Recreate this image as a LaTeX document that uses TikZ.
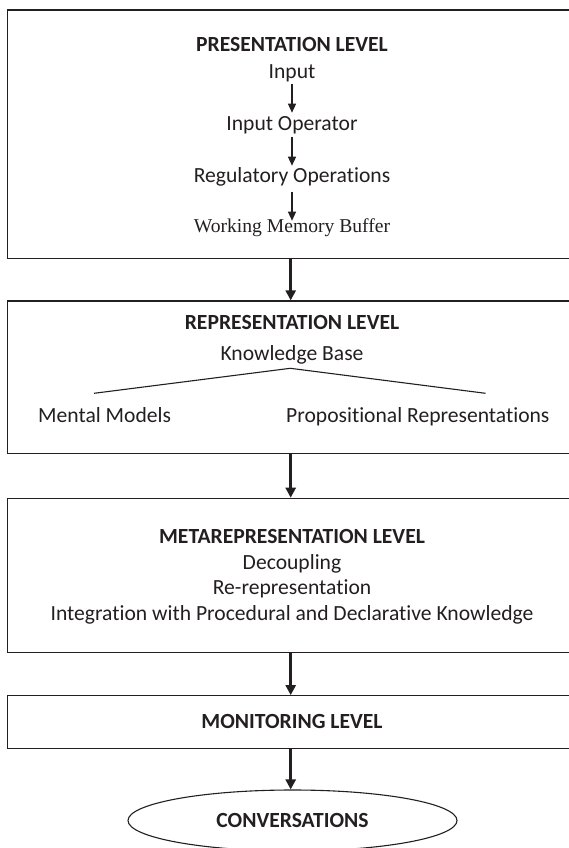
\documentclass[tikz,border=0pt]{standalone}
\usepackage{fontspec}
\setmainfont{Carlito}[RawFeature={-liga}]
\newfontfamily\timesfont{Liberation Serif}
\usetikzlibrary{arrows.meta,shapes.geometric}
\definecolor{ink}{HTML}{231F20}
\begin{document}
\begin{tikzpicture}[x=1pt,y=-1pt,
  levelbox/.style={draw=ink, line width=1.2pt, rectangle, inner sep=0pt, minimum width=568.7pt},
  txt/.style={inner sep=0pt, anchor=base, text=ink, font=\fontsize{21.6}{26}\selectfont},
  head/.style={txt, font=\fontsize{21.6}{26}\selectfont\bfseries},
  smallarrow/.style={draw=ink, line width=1.2pt, -{Triangle[width=8pt,length=9pt]}},
  bigarrow/.style={draw=ink, line width=3pt, -{Triangle[width=10pt,length=10pt]}},
  branch/.style={draw=ink, line width=1.1pt},
  endpoint/.style={draw=ink, line width=1.1pt, ellipse, inner sep=0pt,
    minimum width=329pt, minimum height=61pt, text=ink,
    font=\fontsize{21.6}{26}\selectfont\bfseries}]
\useasboundingbox (0,0) rectangle (569,848);
\clip (0,0) rectangle (569,848);

% level boxes
\node[levelbox, minimum height=248.7pt] (b1) at (291.65,134.35) {};
\node[levelbox, minimum height=152.3pt] (b2) at (291.65,377.15) {};
\node[levelbox, minimum height=154.4pt] (b3) at (291.65,575.5) {};
\node[levelbox, minimum height=52.6pt] (b4) at (291.65,722) {};
\node[endpoint] (conv) at (292.5,820.5) {CONVERSATIONS};

% presentation level
\node[head] (t1) at (292,51.7) {PRESENTATION LEVEL};
\node[txt] (in) at (292,78.3) {Input};
\node[txt] (op) at (292,130.7) {Input Operator};
\node[txt] (reg) at (292,182.3) {Regulatory Operations};
\node[txt, font=\timesfont\fontsize{19.6}{23}\selectfont] (wmb) at (292,232.3) {Working Memory Buffer};
\draw[smallarrow] ([yshift=-5.7pt]in.base) -- ([yshift=18pt]op.base);
\draw[smallarrow] ([yshift=-6pt]op.base) -- ([yshift=16.6pt]reg.base);
\draw[smallarrow] ([yshift=-9.4pt]reg.base) -- ([yshift=11.6pt]wmb.base);

% representation level
\node[head] (t2) at (292,329.3) {REPRESENTATION LEVEL};
\node[txt] (kb) at (292,360) {Knowledge Base};
\coordinate (apex) at (290.3,368.3);
\coordinate (lend) at (94,393.3);
\coordinate (rend) at (485.5,393.3);
\draw[branch] (lend) -- (apex) -- (rend);
\node[txt, anchor=base west] (mm) at (38,422.7) {Mental Models};
\node[txt, anchor=base west] (pr) at (286,422.7) {Propositional Representations};

% metarepresentation level
\node[head] (t3) at (292,543.3) {METAREPRESENTATION LEVEL};
\node[txt] (dec) at (292,569.3) {Decoupling};
\node[txt] (rer) at (292,594) {Re-representation};
\node[txt] (integ) at (292,620) {Integration with Procedural and Declarative Knowledge};

% monitoring level
\node[head] (t4) at (292,728.3) {MONITORING LEVEL};

% flow between levels
\draw[bigarrow] (b1.south -| 290.7,0) -- (b2.north -| 290.7,0);
\draw[bigarrow] (b2.south -| 290.7,0) -- (b3.north -| 290.7,0);
\draw[bigarrow] (b3.south -| 290.7,0) -- (b4.north -| 290.7,0);
\draw[bigarrow] (b4.south -| 290.7,0) -- (conv.north -| 290.7,0);
\end{tikzpicture}
\end{document}
